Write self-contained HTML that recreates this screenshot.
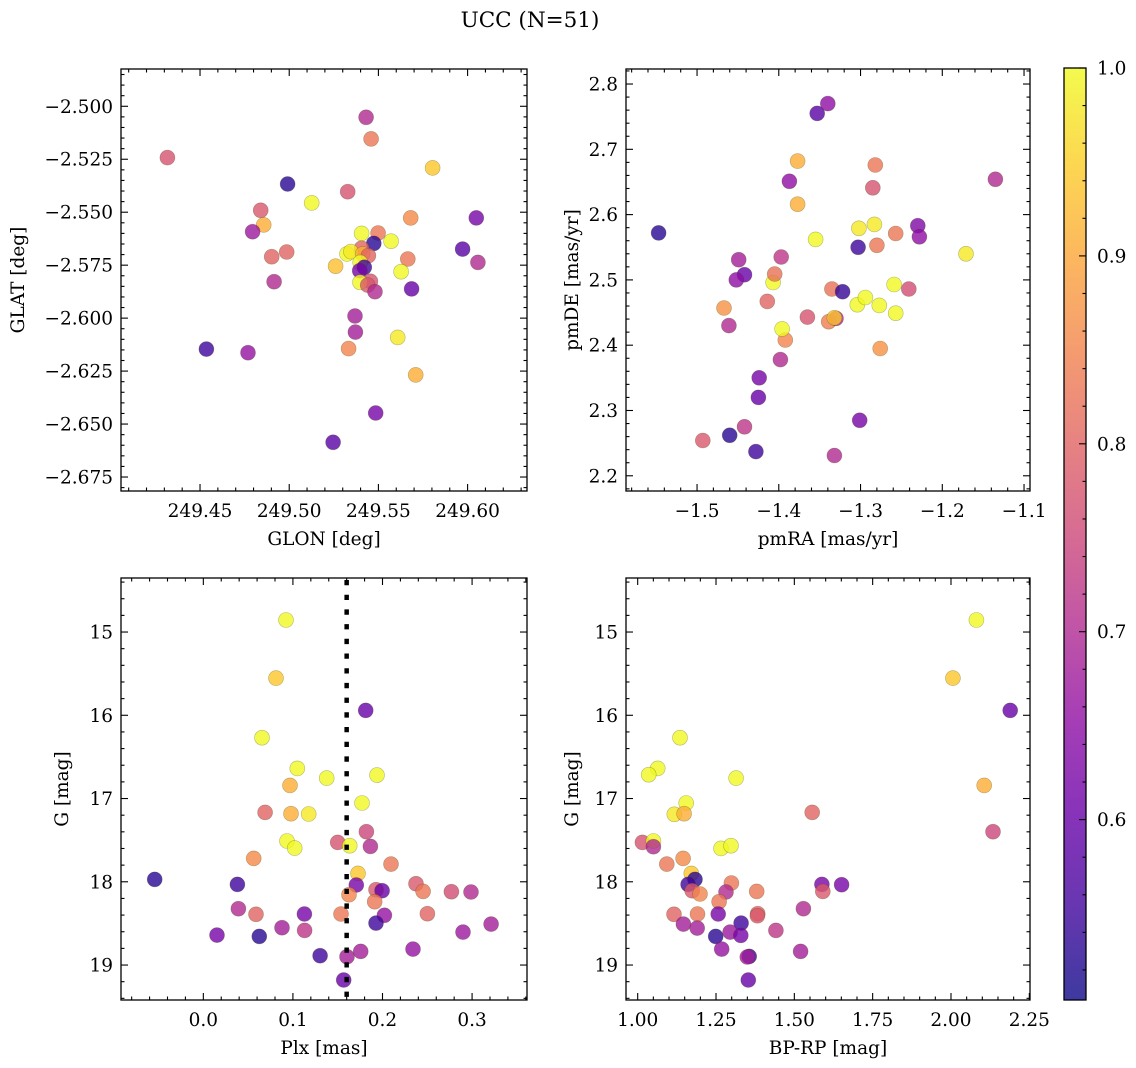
<!DOCTYPE html>
<html><head><meta charset="utf-8"><style>
html,body{margin:0;padding:0;background:#fff;}
svg{display:block;font-family:"DejaVu Serif","Liberation Serif",serif;}
</style></head><body>
<svg id="fig" width="1136" height="1068" viewBox="0 0 1136 1068" xmlns="http://www.w3.org/2000/svg">
<defs>
<linearGradient id="cbgrad" x1="0" y1="1" x2="0" y2="0">
<stop offset="0" stop-color="#0d0887"/><stop offset="0.1" stop-color="#41049d"/><stop offset="0.2" stop-color="#6a00a8"/><stop offset="0.3" stop-color="#8f0da4"/><stop offset="0.4" stop-color="#b12a90"/><stop offset="0.5" stop-color="#cc4778"/><stop offset="0.6" stop-color="#e16462"/><stop offset="0.7" stop-color="#f2844b"/><stop offset="0.8" stop-color="#fca636"/><stop offset="0.9" stop-color="#fcce25"/><stop offset="1" stop-color="#f0f921"/>
</linearGradient>
</defs>
<text x="530" y="27" text-anchor="middle" font-size="21.5">UCC (N=51)</text>
</svg>
<script>
// ---------- DATA ----------
const p1Glon = [249.4317,249.5431,249.5459,249.5804,249.4991,249.5328,249.5126,249.4840,249.5681,249.6049,249.4857,249.4795,249.5406,249.5498,249.5571,249.5474,249.5406,249.4902,249.4986,249.5324,249.5346,249.5412,249.5444,249.5972,249.5665,249.5398,249.6058,249.5260,249.5421,249.5395,249.5627,249.4915,249.5455,249.5397,249.5440,249.5481,249.5686,249.5369,249.5371,249.5608,249.5333,249.4536,249.4769,249.5709,249.5485,249.5246];
const p1Glat = [-2.5242,-2.5052,-2.5154,-2.5291,-2.5367,-2.5403,-2.5456,-2.5491,-2.5527,-2.5527,-2.5560,-2.5592,-2.5600,-2.5598,-2.5637,-2.5647,-2.5670,-2.5710,-2.5688,-2.5697,-2.5686,-2.5697,-2.5705,-2.5674,-2.5721,-2.5737,-2.5737,-2.5755,-2.5760,-2.5776,-2.5781,-2.5828,-2.5826,-2.5831,-2.5844,-2.5875,-2.5862,-2.5990,-2.6066,-2.6091,-2.6144,-2.6146,-2.6163,-2.6268,-2.6448,-2.6586];
const p1Prob = [0.77,0.70,0.83,0.94,0.53,0.77,1.0,0.78,0.86,0.62,0.91,0.67,1.0,0.83,1.0,0.53,0.80,0.80,0.80,1.0,0.98,0.91,0.80,0.58,0.83,1.0,0.70,0.93,0.55,0.62,1.0,0.70,0.77,1.0,0.78,0.70,0.60,0.68,0.68,0.98,0.85,0.55,0.66,0.91,0.62,0.58];

const p2PmRA = [-1.547,-1.493,-1.460,-1.442,-1.428,-1.425,-1.424,-1.398,-1.392,-1.396,-1.414,-1.407,-1.405,-1.397,-1.449,-1.442,-1.452,-1.467,-1.461,-1.387,-1.377,-1.377,-1.353,-1.340,-1.355,-1.365,-1.339,-1.330,-1.332,-1.335,-1.322,-1.332,-1.303,-1.302,-1.301,-1.304,-1.294,-1.283,-1.280,-1.285,-1.282,-1.276,-1.277,-1.259,-1.257,-1.257,-1.241,-1.230,-1.228,-1.171,-1.135];
const p2PmDE = [2.572,2.254,2.262,2.275,2.237,2.320,2.350,2.378,2.408,2.425,2.467,2.496,2.509,2.535,2.531,2.508,2.500,2.457,2.430,2.651,2.682,2.616,2.755,2.770,2.562,2.443,2.436,2.441,2.442,2.486,2.482,2.231,2.550,2.579,2.285,2.462,2.473,2.585,2.553,2.641,2.676,2.395,2.461,2.493,2.449,2.571,2.486,2.583,2.566,2.540,2.654];
const p2Prob = [0.53,0.78,0.53,0.72,0.55,0.60,0.62,0.70,0.85,1.0,0.80,1.0,0.82,0.72,0.68,0.60,0.65,0.87,0.70,0.65,0.91,0.91,0.58,0.65,1.0,0.77,0.84,0.70,0.94,0.82,0.54,0.70,0.55,0.98,0.62,1.0,1.0,0.98,0.83,0.77,0.83,0.87,1.0,1.0,1.0,0.83,0.76,0.63,0.65,0.98,0.70];

const p3Plx = [0.0923,0.0811,0.0655,0.1812,0.1049,0.1377,0.1939,0.0968,0.1771,0.0689,0.0979,0.1176,0.1820,0.0934,0.1020,0.1500,0.1634,0.1865,0.0562,0.2095,0.1727,-0.0543,0.0380,0.1708,0.2374,0.2453,0.1928,0.1995,0.1626,0.2769,0.2988,0.1913,0.0391,0.0588,0.1128,0.1537,0.2021,0.2501,0.1928,0.3212,0.0878,0.1131,0.0153,0.0625,0.2899,0.1303,0.1604,0.1757,0.2341,0.1567];
const p3G = [14.856,15.553,16.269,15.941,16.638,16.754,16.718,16.842,17.054,17.166,17.182,17.186,17.398,17.510,17.595,17.527,17.567,17.575,17.719,17.787,17.899,17.971,18.031,18.039,18.023,18.115,18.095,18.107,18.155,18.119,18.123,18.239,18.323,18.391,18.387,18.387,18.403,18.383,18.496,18.508,18.552,18.584,18.640,18.656,18.604,18.888,18.900,18.836,18.808,19.180];
const p3Prob = [1.0,0.94,1.0,0.60,1.0,1.0,1.0,0.91,1.0,0.80,0.91,0.98,0.75,1.0,1.0,0.77,1.0,0.70,0.86,0.83,0.94,0.53,0.55,0.62,0.78,0.83,0.78,0.60,0.85,0.76,0.70,0.83,0.70,0.80,0.62,0.83,0.66,0.80,0.55,0.68,0.68,0.72,0.62,0.53,0.67,0.55,0.68,0.68,0.66,0.60];
const plxCut = 0.160;

const p4BpRp = [2.081,2.006,2.189,1.135,1.064,1.035,1.314,2.106,1.155,1.557,1.117,1.148,2.134,1.015,1.050,1.050,1.266,1.298,1.093,1.145,1.171,1.183,1.161,1.588,1.651,1.299,1.591,1.380,1.282,1.174,1.199,1.260,1.529,1.116,1.191,1.257,1.383,1.382,1.330,1.146,1.190,1.295,1.329,1.441,1.249,1.268,1.520,1.356,1.350,1.353];
const p4G = [14.856,15.553,15.941,16.269,16.638,16.714,16.754,16.842,17.054,17.166,17.190,17.182,17.398,17.527,17.510,17.579,17.599,17.567,17.787,17.719,17.899,17.971,18.031,18.031,18.035,18.015,18.115,18.115,18.123,18.107,18.147,18.239,18.323,18.391,18.387,18.387,18.383,18.407,18.496,18.508,18.556,18.604,18.644,18.584,18.656,18.808,18.836,18.896,18.904,19.180];
const p4Prob = [1.0,0.94,0.60,1.0,1.0,1.0,1.0,0.91,1.0,0.80,0.98,0.91,0.75,0.77,1.0,0.70,1.0,1.0,0.83,0.86,0.94,0.53,0.55,0.62,0.62,0.83,0.78,0.83,0.70,0.78,0.85,0.83,0.70,0.80,0.83,0.62,0.80,0.78,0.55,0.68,0.68,0.67,0.62,0.72,0.53,0.66,0.68,0.55,0.68,0.60];

const cbTicks = [0.6,0.7,0.8,0.9,1.0];
const cbMin = 0.504, cbMax = 1.0;

// ---------- RENDER ----------
const NS = "http://www.w3.org/2000/svg";
const svg = document.getElementById('fig');
const plasma = ["#0d0887","#41049d","#6a00a8","#8f0da4","#b12a90","#cc4778","#e16462","#f2844b","#fca636","#fcce25","#f0f921"];
function hex(h){return [parseInt(h.substr(1,2),16),parseInt(h.substr(3,2),16),parseInt(h.substr(5,2),16)];}
function cmap(p){
  let t=(p-cbMin)/(cbMax-cbMin); t=Math.max(0,Math.min(1,t));
  const f=t*10, i=Math.min(9,Math.floor(f)), r=f-i;
  const a=hex(plasma[i]), b=hex(plasma[i+1]);
  return 'rgb('+a.map((v,k)=>Math.round(v+(b[k]-v)*r)).join(',')+')';
}
function mk(tag, attrs, parent){
  const e=document.createElementNS(NS,tag);
  for(const k in attrs) e.setAttribute(k,attrs[k]);
  (parent||svg).appendChild(e); return e;
}
function fmt(v,d){const s=Math.abs(v).toFixed(d); return (v< -1e-9?'\u2212':'')+s;}

function panel(cfg){
  const g=mk('g',{});
  
  
  const L=cfg.box[0],T=cfg.box[1],R=cfg.box[2],B=cfg.box[3];
  const sx=v=>L+(v-cfg.xr[0])/(cfg.xr[1]-cfg.xr[0])*(R-L);
  const sy=cfg.yInv ? (v=>T+(v-cfg.yr[0])/(cfg.yr[1]-cfg.yr[0])*(B-T)) : (v=>B-(v-cfg.yr[0])/(cfg.yr[1]-cfg.yr[0])*(B-T));
  const pg=mk('g',{},g);
  
  
  for(let i=0;i<cfg.xs.length;i++){
    const c=mk('circle',{cx:sx(cfg.xs[i]).toFixed(1),cy:sy(cfg.ys[i]).toFixed(1),r:7.5,fill:cmap(cfg.cs[i]),'fill-opacity':0.8,stroke:'rgba(60,60,0,0.35)','stroke-width':0.6},pg);
    
    
  }
  if(cfg.vline!==undefined){
    const ln=mk('line',{x1:sx(cfg.vline),x2:sx(cfg.vline),y1:T+2,y2:B,stroke:'#000','stroke-width':4.5,'stroke-dasharray':'5.3 9.4'},g);
    
    
  }
  const fr=mk('rect',{x:L,y:T,width:R-L,height:B-T,fill:'none',stroke:'#000','stroke-width':1.3},g);
  
  
  const tg=mk('g',{stroke:'#000','stroke-width':1.1},g);
  
  
  const xn=Math.ceil((cfg.xr[0])/cfg.xmin-1e-6), xm=Math.floor(cfg.xr[1]/cfg.xmin+1e-6);
  for(let k=xn;k<=xm;k++){
    const v=k*cfg.xmin, x=sx(v);
    const major=Math.abs(v/cfg.xmaj-Math.round(v/cfg.xmaj))<1e-6;
    const len=major?7:3.5;
    mk('line',{x1:x,x2:x,y1:B,y2:B-len},tg); mk('line',{x1:x,x2:x,y1:T,y2:T+len},tg);
    if(major){
      const t=mk('text',{x:x,y:B+26,'text-anchor':'middle','font-size':18.5,stroke:'none',fill:'#000'},g);
      t.textContent=fmt(v,cfg.xd);
      
      
    }
  }
  const yn=Math.ceil(Math.min(cfg.yr[0],cfg.yr[1])/cfg.ymin-1e-6), ym=Math.floor(Math.max(cfg.yr[0],cfg.yr[1])/cfg.ymin+1e-6);
  for(let k=yn;k<=ym;k++){
    const v=k*cfg.ymin, y=sy(v);
    const major=Math.abs(v/cfg.ymaj-Math.round(v/cfg.ymaj))<1e-6;
    const len=major?7:3.5;
    mk('line',{x1:L,x2:L+len,y1:y,y2:y},tg); mk('line',{x1:R,x2:R-len,y1:y,y2:y},tg);
    if(major){
      const t=mk('text',{x:L-8,y:y+6.5,'text-anchor':'end','font-size':18.5,stroke:'none',fill:'#000'},g);
      t.textContent=fmt(v,cfg.yd);
      
      
    }
  }
  const xl=mk('text',{x:(L+R)/2,y:B+54,'text-anchor':'middle','font-size':18.5},g);
  xl.textContent=cfg.xlab;
  
  
  const yc=(T+B)/2;
  const yl=mk('text',{x:cfg.ylx,y:yc,'text-anchor':'middle','font-size':18.5,transform:'rotate(-90 '+cfg.ylx+' '+yc+')'},g);
  yl.textContent=cfg.ylab;
  
  
}

panel({name:'glon-glat-panel',box:[121,69,527,491],xr:[249.4057,249.6333],yr:[-2.6816,-2.4824],xs:p1Glon,ys:p1Glat,cs:p1Prob,xmaj:0.05,xmin:0.01,xd:2,ymaj:0.025,ymin:0.005,yd:3,xlab:'GLON [deg]',ylab:'GLAT [deg]',ylx:24});
panel({name:'pm-panel',box:[626,69,1030,491],xr:[-1.5869,-1.0927],yr:[2.1767,2.823],xs:p2PmRA,ys:p2PmDE,cs:p2Prob,xmaj:0.1,xmin:0.02,xd:1,ymaj:0.1,ymin:0.02,yd:1,xlab:'pmRA [mas/yr]',ylab:'pmDE [mas/yr]',ylx:578});
panel({name:'plx-g-panel',box:[121,578,527,1000],xr:[-0.0919,0.3613],yr:[14.351,19.420],yInv:true,xs:p3Plx,ys:p3G,cs:p3Prob,xmaj:0.1,xmin:0.02,xd:1,ymaj:1,ymin:0.2,yd:0,xlab:'Plx [mas]',ylab:'G [mag]',ylx:68,vline:plxCut});
panel({name:'cmd-panel',box:[626,578,1030,1000],xr:[0.9627,2.2522],yr:[14.351,19.420],yInv:true,xs:p4BpRp,ys:p4G,cs:p4Prob,xmaj:0.25,xmin:0.05,xd:2,ymaj:1,ymin:0.2,yd:0,xlab:'BP-RP [mag]',ylab:'G [mag]',ylx:578});

(function(){
  const L=1064,R=1086,T=68,B=1000;
  const cg=mk('g',{});
  
  
  mk('rect',{x:L,y:T,width:R-L,height:B-T,fill:'url(#cbgrad)','fill-opacity':0.8},cg);
  mk('rect',{x:L,y:T,width:R-L,height:B-T,fill:'none',stroke:'#000','stroke-width':1.3},cg);
  const sy=v=>B-(v-cbMin)/(cbMax-cbMin)*(B-T);
  for(let k=26;k<=50;k++){
    const v=k*0.02; if(v<cbMin) continue;
    const y=sy(v); const major=(k%5===0);
    mk('line',{x1:R,x2:R-(major?7:3.5),y1:y,y2:y,stroke:'#000','stroke-width':1.1},cg);
  }
  cbTicks.forEach(v=>{
    const t=mk('text',{x:1097,y:sy(v)+6.5,'font-size':18.5},cg);
    t.textContent=v.toFixed(1);
    
    
  });
})();
</script>
</body></html>
